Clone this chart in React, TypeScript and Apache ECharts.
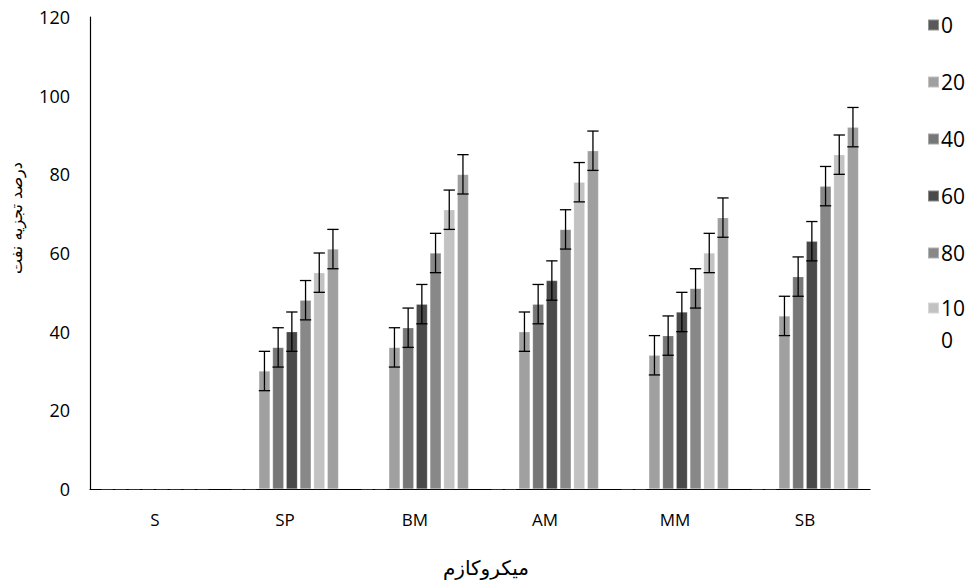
import React, { useEffect, useRef } from "react";
import * as echarts from "echarts";

const categories = ["S", "SP", "BM", "AM", "MM", "SB"];
const yTicks = [0, 20, 40, 60, 80, 100, 120];
const legendNames = ["0", "20", "40", "60", "80", "100"];

// bar slot order as drawn in each group (first two slots are empty)
const valsBlank = [0, 0, 0, 0, 0, 0];
const vals0 = [0, 0, 0, 0, 0, 0];
const vals20 = [0, 30, 36, 40, 34, 44];
const vals40 = [0, 36, 41, 47, 39, 54];
const vals60 = [0, 40, 47, 53, 45, 63];
const vals80 = [0, 48, 60, 66, 51, 77];
const vals100 = [0, 55, 71, 78, 60, 85];
const valsExtra = [0, 61, 80, 86, 69, 92];

const errBlank = [0, 0, 0, 0, 0, 0];
const err0 = [0, 0, 0, 0, 0, 0];
const err20 = [0, 5, 5, 5, 5, 5];
const err40 = [0, 5, 5, 5, 5, 5];
const err60 = [0, 5, 5, 5, 5, 5];
const err80 = [0, 5, 5, 5, 5, 5];
const err100 = [0, 5, 5, 5, 5, 5];
const errExtra = [0, 5, 5, 5, 5, 5];

const slots = [
  { name: "blank", values: valsBlank, errors: errBlank, color: "#7f7f7f" },
  { name: "0", values: vals0, errors: err0, color: "#595959" },
  { name: "20", values: vals20, errors: err20, color: "#a0a0a0" },
  { name: "40", values: vals40, errors: err40, color: "#777777" },
  { name: "60", values: vals60, errors: err60, color: "#4a4a4a" },
  { name: "80", values: vals80, errors: err80, color: "#888888" },
  { name: "100", values: vals100, errors: err100, color: "#c2c2c2" },
  { name: "extra", values: valsExtra, errors: errExtra, color: "#9f9f9f" },
];

const BAR_W = 11.3;
const GAP = 2.4;

export default function App() {
  const ref = useRef<HTMLDivElement>(null);
  useEffect(() => {
    document.body.style.margin = "0";
    if (!ref.current) return;
    const chart = echarts.init(ref.current, null, { renderer: "svg" });
    const n = slots.length;
    const groupW = n * BAR_W + (n - 1) * GAP;
    const font = "'Open Sans', sans-serif";

    const barSeries = slots.map((s) => ({
      name: s.name,
      type: "bar",
      data: s.values,
      barWidth: BAR_W,
      barGap: ((GAP / BAR_W) * 100).toFixed(1) + "%",
      itemStyle: { color: s.color, borderColor: "rgba(255,255,255,0.35)", borderWidth: 0.6 },
      emphasis: { disabled: true },
    }));

    const errSeries = slots.map((s, i) => {
      const offset = -groupW / 2 + i * (BAR_W + GAP) + BAR_W / 2;
      return {
        name: s.name + "_err",
        type: "custom",
        z: 5,
        data: s.values.map((v, k) => [k, v, s.errors[k]]),
        renderItem: (params: any, api: any) => {
          const e = api.value(2);
          if (!e) return null;
          const c = api.value(0);
          const v = api.value(1);
          const top = api.coord([c, v + e]);
          const bot = api.coord([c, v - e]);
          const x = top[0] + offset;
          const hw = BAR_W / 2;
          const st = { stroke: "#000", lineWidth: 1.3 };
          return {
            type: "group",
            children: [
              { type: "line", shape: { x1: x, y1: top[1], x2: x, y2: bot[1] }, style: st },
              { type: "line", shape: { x1: x - hw, y1: top[1], x2: x + hw, y2: top[1] }, style: st },
              { type: "line", shape: { x1: x - hw, y1: bot[1], x2: x + hw, y2: bot[1] }, style: st },
            ],
          };
        },
      };
    });

    const legendBase = {
      orient: "vertical",
      left: 922,
      itemWidth: 11,
      itemHeight: 11,
      itemGap: 25,
      icon: "rect",
      selectedMode: false,
      textStyle: { fontFamily: font, fontSize: 21, lineHeight: 32, color: "#000", padding: [0, 0, 0, -3] },
    };

    chart.setOption({
      animation: false,
      grid: { left: 90, right: 95, top: 17, bottom: 95, containLabel: false },
      legend: [
        { ...legendBase, top: 4, data: legendNames.slice(0, 5) },
        {
          ...legendBase,
          top: 255,
          data: legendNames.slice(5),
          formatter: (nm: string) => "\n" + nm.slice(0, 2) + "\n" + nm.slice(2),
        },
      ],
      xAxis: {
        type: "category",
        data: categories,
        axisLine: { lineStyle: { color: "#000", width: 1.2 } },
        axisTick: { show: false },
        axisLabel: { fontFamily: font, fontSize: 17, color: "#000", margin: 22 },
      },
      yAxis: {
        type: "value",
        min: yTicks[0],
        max: yTicks[yTicks.length - 1],
        interval: yTicks[1] - yTicks[0],
        axisLine: { show: true, lineStyle: { color: "#000", width: 1.2 } },
        axisTick: { show: false },
        splitLine: { show: false },
        axisLabel: { fontFamily: font, fontSize: 18, color: "#000", margin: 20 },
      },
      graphic: [
        {
          type: "text",
          x: 16,
          y: 218,
          rotation: Math.PI / 2,
          style: {
            text: "درصد تجزیه نفت",
            font: "16px 'DejaVu Sans', sans-serif",
            fill: "#000",
            align: "center",
            verticalAlign: "middle",
          },
        },
        {
          type: "text",
          x: 486,
          y: 568,
          style: {
            text: "میکروکازم",
            font: "20px 'DejaVu Sans', sans-serif",
            fill: "#000",
            align: "center",
            verticalAlign: "middle",
          },
        },
      ],
      series: [...barSeries, ...errSeries],
    });
    return () => chart.dispose();
  }, []);
  return <div ref={ref} style={{ width: 965, height: 584 }} />;
}
